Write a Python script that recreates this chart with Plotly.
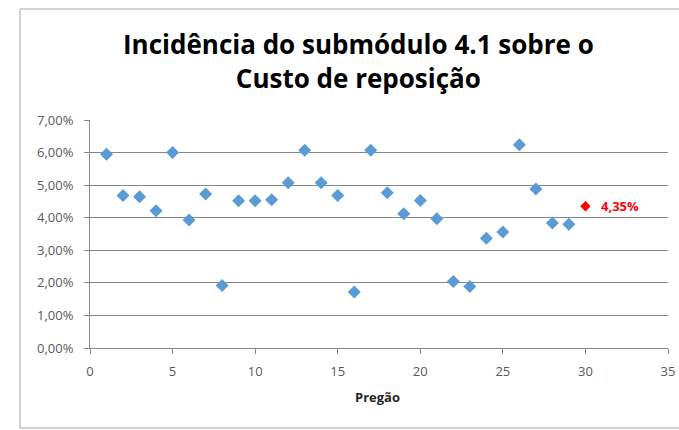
import plotly.graph_objects as go

# Data
pregao = list(range(1, 31))
incidencia = [0.0595, 0.0468, 0.0464, 0.0421, 0.0600, 0.0393, 0.0473, 0.0192, 0.0452, 0.0452,
              0.0455, 0.0507, 0.0607, 0.0507, 0.0468, 0.0172, 0.0607, 0.0477, 0.0412, 0.0453,
              0.0397, 0.0204, 0.0189, 0.0337, 0.0356, 0.0624, 0.0488, 0.0384, 0.0380, 0.0435]
highlight_index = 29  # last point (red)
title_text = "Incidência do submódulo 4.1 sobre o<br>Custo de reposição"
x_title = "Pregão"
x_ticks = [0, 5, 10, 15, 20, 25, 30, 35]
y_ticks = [0.0, 0.01, 0.02, 0.03, 0.04, 0.05, 0.06, 0.07]

FONT = "Open Sans"
BLUE = "#5B9BD5"
RED = "#FF0000"

bx = [x for i, x in enumerate(pregao) if i != highlight_index]
by = [y for i, y in enumerate(incidencia) if i != highlight_index]
hx = pregao[highlight_index]
hy = incidencia[highlight_index]
hlabel = f"{hy*100:.2f}".replace(".", ",") + "%"

fig = go.Figure()
fig.add_trace(go.Scatter(x=bx, y=by, mode="markers",
                         marker=dict(symbol="diamond", size=10, color=BLUE,
                                     line=dict(width=0)),
                         showlegend=False))
fig.add_trace(go.Scatter(x=[hx], y=[hy], mode="markers",
                         marker=dict(symbol="diamond", size=8, color=RED,
                                     line=dict(width=0)),
                         showlegend=False))

fig.add_annotation(x=hx, y=hy, xref="x", yref="y", text=hlabel, showarrow=False,
                   xanchor="left", xshift=14,
                   font=dict(family=FONT, size=13, color=RED, weight="bold"))

# Title
fig.add_annotation(x=0.4637, y=1.2588, xref="paper", yref="paper", text=title_text,
                   showarrow=False, xanchor="center", yanchor="middle",
                   font=dict(family=FONT, size=26, color="#000000", weight="bold"))
# X axis title
fig.add_annotation(x=0.498, y=-0.215, xref="paper", yref="paper", text=x_title,
                   showarrow=False, xanchor="center", yanchor="middle",
                   font=dict(family=FONT, size=13, color="#262626", weight="bold"))

# Chart border
fig.add_shape(type="rect", xref="paper", yref="paper",
              x0=-0.1211, x1=1.05, y0=-0.3509, y1=1.4868,
              line=dict(color="#A6A6A6", width=1), fillcolor="rgba(0,0,0,0)")

fig.update_layout(
    width=679, height=430,
    margin=dict(l=90, r=11, t=120, b=82, autoexpand=False),
    paper_bgcolor="white", plot_bgcolor="white",
    separators=",.",
    font=dict(family=FONT, size=13, color="#595959"),
    xaxis=dict(range=[0, 35], tickvals=x_ticks, showgrid=False, zeroline=False,
               showline=True, linecolor="#868686", linewidth=1,
               ticks="outside", ticklen=5, tickcolor="#868686",
               ticklabelstandoff=6, automargin=False, ticklabeloverflow="allow",
               tickfont=dict(family=FONT, size=13, color="#595959")),
    yaxis=dict(range=[0, 0.07], tickvals=y_ticks, tickformat=".2%",
               showgrid=True, gridcolor="#868686", gridwidth=1, zeroline=False,
               showline=True, linecolor="#868686", linewidth=1,
               ticks="outside", ticklen=5, tickcolor="#868686",
               ticklabelstandoff=8, automargin=False,
               tickfont=dict(family=FONT, size=13, color="#595959")),
)

fig.write_html("out.html",
               config={"displayModeBar": False},
               post_script="document.body.style.margin='0';document.body.style.overflow='hidden';")
